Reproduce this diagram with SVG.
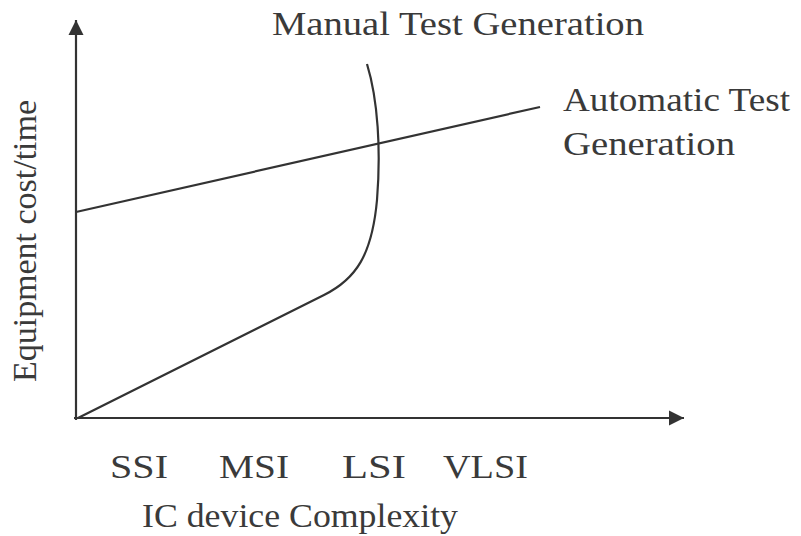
<svg xmlns="http://www.w3.org/2000/svg" width="801" height="536" viewBox="0 0 801 536">
<style>
.t{font-family:"Liberation Serif","DejaVu Serif",serif;font-size:34px;fill:#3a3a3a}
.ln{fill:none;stroke:#333;stroke-width:2.2}
</style>
<defs>
<marker id="ah" viewBox="0 0 10 10" refX="10" refY="5" markerWidth="7" markerHeight="7" orient="auto" markerUnits="strokeWidth">
<path d="M0,0 L10,5 L0,10 z" fill="#333"/>
</marker>
</defs>
<rect width="801" height="536" fill="#fff"/>
<g id="connectors">
<line class="ln" x1="76" y1="420" x2="76" y2="20" marker-end="url(#ah)"/>
<line class="ln" x1="74" y1="418" x2="684" y2="418" marker-end="url(#ah)"/>
<line class="ln" x1="76" y1="212" x2="540" y2="107"/>
<path class="ln" d="M78,418 L324,295 C356,279 372,255 377,200 C381,150 378,100 367,64"/>
</g>
<g id="labels">
<text class="t" x="272" y="35" textLength="372" lengthAdjust="spacingAndGlyphs">Manual Test Generation</text>
<text class="t" x="563" y="111" textLength="227" lengthAdjust="spacingAndGlyphs">Automatic Test</text>
<text class="t" x="563" y="155" textLength="172" lengthAdjust="spacingAndGlyphs">Generation</text>
<text class="t" x="110" y="478" textLength="58" lengthAdjust="spacingAndGlyphs">SSI</text>
<text class="t" x="219" y="478" textLength="70" lengthAdjust="spacingAndGlyphs">MSI</text>
<text class="t" x="342" y="478" textLength="64" lengthAdjust="spacingAndGlyphs">LSI</text>
<text class="t" x="443" y="478" textLength="85" lengthAdjust="spacingAndGlyphs">VLSI</text>
<text class="t" x="142" y="527" textLength="316" lengthAdjust="spacingAndGlyphs">IC device Complexity</text>
<text class="t" transform="translate(36,382) rotate(-90)" x="0" y="0" textLength="282" lengthAdjust="spacingAndGlyphs">Equipment cost/time</text>
</g>
</svg>
